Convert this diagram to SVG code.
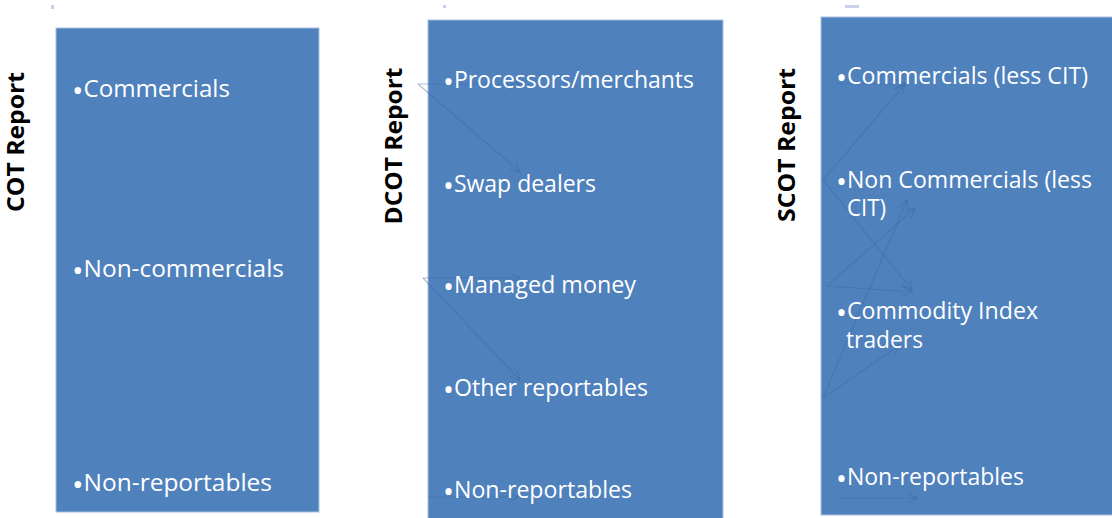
<svg xmlns="http://www.w3.org/2000/svg" width="1112" height="518" viewBox="0 0 1112 518">
  <style>
    .box { fill: #4f81bd; stroke: #a9c0de; stroke-width: 1; }
    .item { font-family: "Open Sans", "Liberation Sans", sans-serif; font-size: 23px; fill: #ffffff; }
    .b { font-size: 29px; }
    .title { font-family: "Open Sans", "Liberation Sans", sans-serif; font-size: 24px; font-weight: bold; fill: #000000; text-anchor: middle; }
    .conn { fill: none; stroke: #3b6aa3; stroke-opacity: 0.42; stroke-width: 1.2; marker-end: url(#arr); }
    .mark { fill: #c9d0ea; }
  </style>
  <defs>
    <marker id="arr" markerWidth="12" markerHeight="12" refX="10" refY="5" orient="auto" markerUnits="userSpaceOnUse">
      <path d="M0,0 L10,5 L0,10" fill="none" stroke="#3b6aa3" stroke-opacity="0.42" stroke-width="1.2"/>
    </marker>
  </defs>
  <rect width="1112" height="518" fill="#ffffff"/>

  <rect class="mark" x="51" y="5" width="3" height="4"/>
  <rect class="mark" x="443" y="5" width="3" height="3"/>
  <rect class="mark" x="845" y="5" width="14" height="3"/>

  <g id="cot">
    <rect class="box" x="56" y="28" width="263" height="484"/>
    <text class="title" transform="translate(24,142) rotate(-90)" textLength="140" lengthAdjust="spacingAndGlyphs">COT Report</text>
    <text class="item" x="72" y="97" textLength="158" lengthAdjust="spacingAndGlyphs"><tspan class="b" dy="4">•</tspan><tspan dy="-4">Commercials</tspan></text>
    <text class="item" x="72" y="277" textLength="212" lengthAdjust="spacingAndGlyphs"><tspan class="b" dy="4">•</tspan><tspan dy="-4">Non-commercials</tspan></text>
    <text class="item" x="72" y="491" textLength="200" lengthAdjust="spacingAndGlyphs"><tspan class="b" dy="4">•</tspan><tspan dy="-4">Non-reportables</tspan></text>
  </g>

  <g id="dcot">
    <rect class="box" x="428" y="20" width="295" height="500"/>
    <text class="title" transform="translate(402,146) rotate(-90)" textLength="157" lengthAdjust="spacingAndGlyphs">DCOT Report</text>
  </g>

  <g id="scot">
    <rect class="box" x="821" y="17" width="293" height="498"/>
    <text class="title" transform="translate(795,145) rotate(-90)" textLength="154" lengthAdjust="spacingAndGlyphs">SCOT Report</text>
  </g>

  <g id="connectors">
    <line class="conn" x1="418" y1="84" x2="520" y2="84"/>
    <line class="conn" x1="418" y1="84" x2="520" y2="172"/>
    <line class="conn" x1="423" y1="278" x2="520" y2="278"/>
    <line class="conn" x1="423" y1="278" x2="520" y2="380"/>
    <line class="conn" x1="428" y1="497" x2="518" y2="497"/>
    <line class="conn" x1="823" y1="180" x2="905" y2="84"/>
    <line class="conn" x1="836" y1="84" x2="905" y2="84"/>
    <line class="conn" x1="823" y1="180" x2="912" y2="290"/>
    <line class="conn" x1="827" y1="286" x2="915" y2="208"/>
    <line class="conn" x1="827" y1="286" x2="912" y2="292"/>
    <line class="conn" x1="823" y1="398" x2="907" y2="200"/>
    <line class="conn" x1="823" y1="398" x2="900" y2="345"/>
    <line class="conn" x1="837" y1="498" x2="917" y2="498"/>
  </g>

  <g id="dcot-items">
    <text class="item" x="443" y="88" textLength="251" lengthAdjust="spacingAndGlyphs"><tspan class="b" dy="4">•</tspan><tspan dy="-4">Processors/merchants</tspan></text>
    <text class="item" x="443" y="192" textLength="153" lengthAdjust="spacingAndGlyphs"><tspan class="b" dy="4">•</tspan><tspan dy="-4">Swap dealers</tspan></text>
    <text class="item" x="443" y="293" textLength="193" lengthAdjust="spacingAndGlyphs"><tspan class="b" dy="4">•</tspan><tspan dy="-4">Managed money</tspan></text>
    <text class="item" x="443" y="396" textLength="205" lengthAdjust="spacingAndGlyphs"><tspan class="b" dy="4">•</tspan><tspan dy="-4">Other reportables</tspan></text>
    <text class="item" x="443" y="498" textLength="189" lengthAdjust="spacingAndGlyphs"><tspan class="b" dy="4">•</tspan><tspan dy="-4">Non-reportables</tspan></text>
  </g>

  <g id="scot-items">
    <text class="item" x="836" y="84" textLength="252" lengthAdjust="spacingAndGlyphs"><tspan class="b" dy="4">•</tspan><tspan dy="-4">Commercials (less CIT)</tspan></text>
    <text class="item" x="836" y="188" textLength="256" lengthAdjust="spacingAndGlyphs"><tspan class="b" dy="4">•</tspan><tspan dy="-4">Non Commercials (less</tspan></text>
    <text class="item" x="847" y="216" textLength="39" lengthAdjust="spacingAndGlyphs">CIT)</text>
    <text class="item" x="836" y="319" textLength="202" lengthAdjust="spacingAndGlyphs"><tspan class="b" dy="4">•</tspan><tspan dy="-4">Commodity Index</tspan></text>
    <text class="item" x="846" y="348" textLength="77" lengthAdjust="spacingAndGlyphs">traders</text>
    <text class="item" x="836" y="485" textLength="188" lengthAdjust="spacingAndGlyphs"><tspan class="b" dy="4">•</tspan><tspan dy="-4">Non-reportables</tspan></text>
  </g>
</svg>
